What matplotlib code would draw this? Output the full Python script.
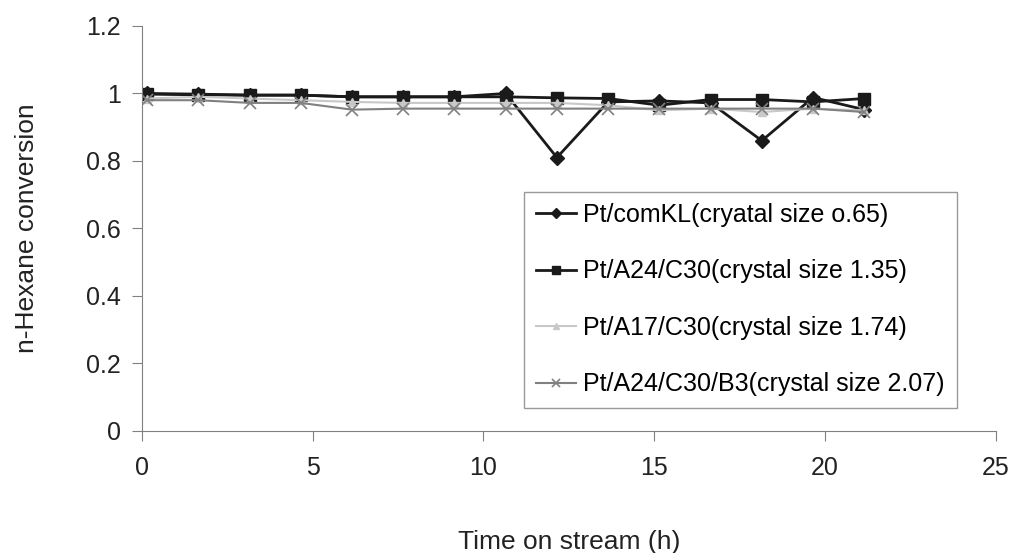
import matplotlib
matplotlib.use("Agg")
import matplotlib.pyplot as plt

plt.rcParams['font.family'] = ['Liberation Sans', 'DejaVu Sans']

# time on stream (h)
time_h = [0.15, 1.65, 3.15, 4.65, 6.15, 7.65, 9.15, 10.65, 12.15, 13.65,
          15.15, 16.65, 18.15, 19.65, 21.15]

comkl = [1.0, 0.998, 0.995, 0.995, 0.99, 0.99, 0.99, 1.0, 0.81, 0.975,
         0.978, 0.972, 0.86, 0.988, 0.952]
a24_c30 = [0.998, 0.996, 0.995, 0.995, 0.99, 0.99, 0.99, 0.99, 0.987, 0.985,
           0.965, 0.982, 0.982, 0.975, 0.985]
a17_c30 = [0.985, 0.99, 0.985, 0.98, 0.975, 0.972, 0.972, 0.972, 0.972, 0.965,
           0.95, 0.955, 0.945, 0.955, 0.95]
a24_c30_b3 = [0.98, 0.98, 0.972, 0.972, 0.952, 0.955, 0.955, 0.955, 0.955, 0.955,
              0.955, 0.955, 0.955, 0.955, 0.945]

labels = ['Pt/comKL(cryatal size o.65)',
          'Pt/A24/C30(crystal size 1.35)',
          'Pt/A17/C30(crystal size 1.74)',
          'Pt/A24/C30/B3(crystal size 2.07)']

fig = plt.figure(figsize=(10.14, 5.53), dpi=100)
ax = fig.add_axes([0.140, 0.221, 0.842, 0.732])

ax.plot(time_h, comkl, color='#1a1a1a', lw=2, marker='D', ms=7, label=labels[0])
ax.plot(time_h, a24_c30, color='#1a1a1a', lw=2, marker='s', ms=8, label=labels[1])
ax.plot(time_h, a17_c30, color='#c8c8c8', lw=1.5, marker='^', ms=6, label=labels[2])
ax.plot(time_h, a24_c30_b3, color='#808080', lw=1.5, marker='x', ms=8,
        mew=1.2, label=labels[3])

ax.set_xlim(0, 25)
ax.set_ylim(0, 1.2)
ax.set_xticks([0, 5, 10, 15, 20, 25])
ax.set_yticks([0, 0.2, 0.4, 0.6, 0.8, 1.0, 1.2])
ax.set_yticklabels(['0', '0.2', '0.4', '0.6', '0.8', '1', '1.2'])

for s in ['top', 'right']:
    ax.spines[s].set_visible(False)
for s in ['left', 'bottom']:
    ax.spines[s].set_color('#808080')
ax.tick_params(colors='#808080', labelcolor='#222222', labelsize=18,
               length=7, direction='out')
ax.tick_params(axis='x', pad=11)
ax.tick_params(axis='y', pad=8)

ax.set_xlabel('Time on stream (h)', fontsize=19, labelpad=36, color='#222222')
ax.set_ylabel('n-Hexane conversion', fontsize=19, labelpad=34, color='#222222')

leg = ax.legend(loc='lower left', bbox_to_anchor=(0.448, 0.057, 0.507, 0.528),
                mode='expand', fontsize=18, frameon=True, fancybox=False,
                handlelength=1.6, handletextpad=0.3, labelspacing=1.3,
                borderaxespad=0, borderpad=0.45, markerscale=0.8)
leg.get_frame().set_edgecolor('#808080')
leg.get_frame().set_linewidth(1.0)

fig.savefig('out.png', dpi=100)
